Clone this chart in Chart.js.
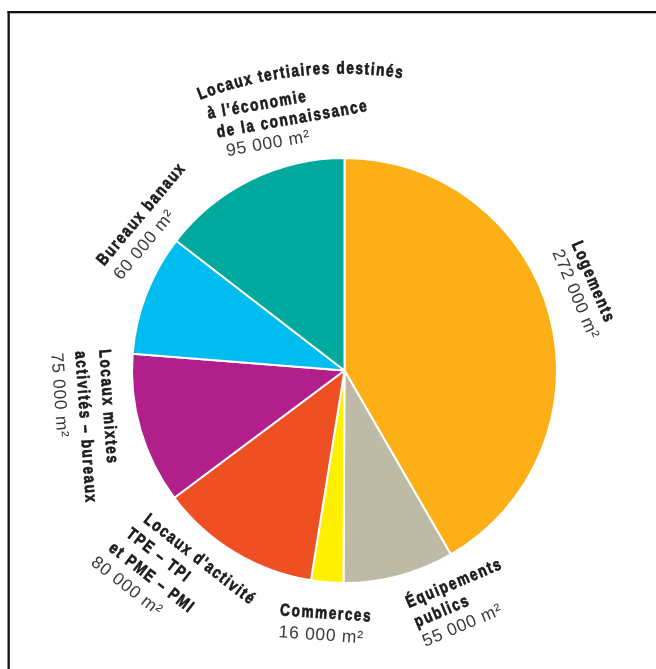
<!DOCTYPE html>
<html>
<head>
<meta charset="utf-8">
<script src="https://cdn.jsdelivr.net/npm/chart.js@4.4.0/dist/chart.umd.min.js"></script>
<style>
    html, body { margin: 0; padding: 0; background: #fff; }
    #wrap { position: relative; width: 656px; height: 669px; }
</style>
</head>
<body>
<div id="wrap"><canvas id="surfaceChart"></canvas></div>
<script>
// surfaces programmées, dans l'ordre des aiguilles d'une montre depuis midi
const categories = [
    'Logements',
    'Équipements publics',
    'Commerces',
    "Locaux d'activité TPE – TPI et PME – PMI",
    'Locaux mixtes activités – bureaux',
    'Bureaux banaux',
    "Locaux tertiaires destinés à l'économie de la connaissance"
];
const surfaces = [272000, 55000, 16000, 80000, 75000, 60000, 95000];
const nameLines = [
    ['Logements'],
    ['Équipements', 'publics'],
    ['Commerces'],
    ["Locaux d'activité", 'TPE – TPI', 'et PME – PMI'],
    ['Locaux mixtes', 'activités – bureaux'],
    ['Bureaux banaux'],
    ['Locaux tertiaires destinés', "à l'économie", 'de la connaissance']
];
const sliceColors = ['#fcaf17', '#bdbaa6', '#fff000', '#ef5023', '#b11f8b', '#00bdf0', '#00a99d'];

// placement des étiquettes autour du disque (angle depuis midi, écart au bord, rotation)
const labelPlacement = [
    { angle: 61, gap: 52, rot: 67, step: 21, shift: 0 },
    { angle: 165, gap: 29, rot: -23, step: 21, shift: 0 },
    { angle: 195, gap: 36, rot: 4, step: 22, shift: 0 },
    { angle: 233.5, gap: 35, rot: 38, step: 22, shift: -5 },
    { angle: 275, gap: 29, rot: 86, step: 24, shift: 0 },
    { angle: 293.7, gap: 54, rot: -50, step: 22, shift: 0 },
    { angle: 332, gap: 99, rot: -10, step: 20, shift: 6, curveFirst: { rot: -11, radius: 400 } }
];
const NARROW = 0.8;

function formatSurface(n) {
    return String(n).replace(/\B(?=(\d{3})+(?!\d))/g, ' ') + ' m²';
}

const framePlugin = {
    id: 'frame',
    beforeDraw(chart) {
        const ctx = chart.ctx;
        ctx.save();
        ctx.fillStyle = '#fff';
        ctx.fillRect(0, 0, chart.width, chart.height);
        ctx.fillStyle = '#111';
        ctx.fillRect(7.5, 11, chart.width, 2.3);
        ctx.fillRect(7.5, 11, 2.3, chart.height);
        ctx.restore();
    }
};

function setNameFont(ctx) {
    ctx.font = 'bold 17px "Liberation Sans", Arial, sans-serif';
    ctx.fillStyle = '#1e1b1c';
    ctx.strokeStyle = '#1e1b1c';
    ctx.lineWidth = 0.7;
}

const labelPlugin = {
    id: 'sliceLabels',
    afterDraw(chart) {
        const ctx = chart.ctx;
        const arcs = chart.getDatasetMeta(0).data;
        if (!arcs.length) return;
        const cx = arcs[0].x, cy = arcs[0].y, R = arcs[0].outerRadius;
        ctx.save();
        ctx.textAlign = 'left';
        ctx.textBaseline = 'middle';
        labelPlacement.forEach((p, i) => {
            const a = p.angle * Math.PI / 180;
            const x = cx + Math.sin(a) * (R + p.gap);
            const y = cy - Math.cos(a) * (R + p.gap);
            const lines = nameLines[i].concat([formatSurface(surfaces[i])]);
            ctx.save();
            ctx.translate(x, y);
            ctx.rotate(p.rot * Math.PI / 180);
            lines.forEach((line, j) => {
                const isValue = j === lines.length - 1;
                ctx.save();
                ctx.translate(j * p.shift, j * p.step);
                if (isValue) {
                    ctx.font = '17.5px "Liberation Sans", Arial, sans-serif';
                    ctx.fillStyle = '#3a3a3a';
                    ctx.letterSpacing = '0.7px';
                    ctx.fillText(line, 0, 0);
                } else if (j === 0 && p.curveFirst) {
                    // première ligne posée sur un arc
                    setNameFont(ctx);
                    ctx.letterSpacing = '0px';
                    ctx.rotate(p.curveFirst.rot * Math.PI / 180);
                    for (const ch of line) {
                        const w = ctx.measureText(ch).width * NARROW + 1.6;
                        ctx.save();
                        ctx.scale(NARROW, 1);
                        ctx.fillText(ch, 0, 0);
                        ctx.strokeText(ch, 0, 0);
                        ctx.restore();
                        ctx.translate(w / 2, 0);
                        ctx.rotate(w / p.curveFirst.radius);
                        ctx.translate(w / 2, 0);
                    }
                } else {
                    setNameFont(ctx);
                    ctx.letterSpacing = '2px';
                    ctx.scale(NARROW, 1);
                    ctx.fillText(line, 0, 0);
                    ctx.strokeText(line, 0, 0);
                }
                ctx.restore();
            });
            ctx.restore();
        });
        ctx.restore();
    }
};

function drawSurfaceChart() {
    const ctx = document.getElementById('surfaceChart').getContext('2d');
    return new Chart(ctx, {
        type: 'pie',
        data: {
            labels: categories,
            datasets: [{
                data: surfaces,
                backgroundColor: sliceColors,
                borderColor: '#ffffff',
                borderWidth: 2
            }]
        },
        options: {
            responsive: true,
            maintainAspectRatio: false,
            animation: false,
            layout: {
                padding: { left: 131, right: 98, top: 157, bottom: 85 }
            },
            plugins: {
                legend: { display: false },
                tooltip: { enabled: false }
            }
        },
        plugins: [framePlugin, labelPlugin]
    });
}

drawSurfaceChart();
</script>
</body>
</html>
